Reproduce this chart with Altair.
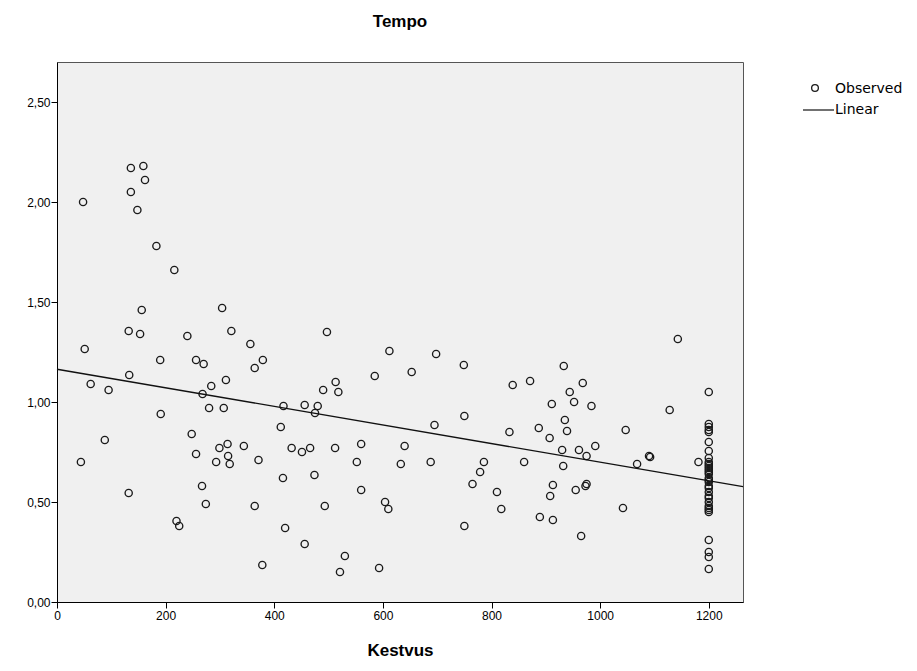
import altair as alt
import pandas as pd

# Observed points (Kestvus, Tempo)
kestvus = [
    48, 136, 159, 162, 136, 148, 183, 216, 156, 304,
    132, 153, 240, 321, 356, 51, 190, 256, 270, 379,
    364, 133, 62, 95, 311, 284, 268, 280, 307, 417,
    191, 412, 248, 88, 299, 314, 344, 432, 256, 315,
    293, 318, 371, 44, 416, 267, 274, 364, 132, 420,
    220, 225, 378, 497, 612, 698, 749, 585, 653, 513,
    490, 518, 839, 456, 480, 475, 750, 695, 833, 451,
    466, 512, 560, 640, 552, 633, 688, 786, 779, 765,
    810, 818, 474, 560, 493, 604, 610, 750, 456, 530,
    521, 593, 1143, 933, 871, 968, 944, 952, 911, 984,
    1128, 935, 939, 887, 1047, 907, 930, 961, 991, 975,
    860, 932, 1068, 1090, 1092, 1181, 913, 908, 955, 973,
    975, 889, 913, 965, 1042,
    1200, 1200, 1200, 1200, 1200, 1200, 1200, 1200, 1200, 1200,
    1200, 1200, 1200, 1200, 1200, 1200, 1200, 1200, 1200, 1200,
    1200, 1200, 1200, 1200, 1200, 1200, 1200, 1200, 1200, 1200,
    1200, 1200,
]
tempo = [
    2.00, 2.17, 2.18, 2.11, 2.05, 1.96, 1.78, 1.66, 1.46, 1.47,
    1.355, 1.34, 1.33, 1.355, 1.29, 1.265, 1.21, 1.21, 1.19, 1.21,
    1.17, 1.135, 1.09, 1.06, 1.11, 1.08, 1.04, 0.97, 0.97, 0.98,
    0.94, 0.875, 0.84, 0.81, 0.77, 0.79, 0.78, 0.77, 0.74, 0.73,
    0.70, 0.69, 0.71, 0.70, 0.62, 0.58, 0.49, 0.48, 0.545, 0.37,
    0.405, 0.38, 0.185, 1.35, 1.255, 1.24, 1.185, 1.13, 1.15, 1.10,
    1.06, 1.05, 1.085, 0.985, 0.98, 0.945, 0.93, 0.885, 0.85, 0.75,
    0.77, 0.77, 0.79, 0.78, 0.70, 0.69, 0.70, 0.70, 0.65, 0.59,
    0.55, 0.465, 0.635, 0.56, 0.48, 0.50, 0.465, 0.38, 0.29, 0.23,
    0.15, 0.17, 1.315, 1.18, 1.105, 1.095, 1.05, 1.00, 0.99, 0.98,
    0.96, 0.91, 0.855, 0.87, 0.86, 0.82, 0.76, 0.76, 0.78, 0.73,
    0.70, 0.68, 0.69, 0.73, 0.725, 0.70, 0.585, 0.53, 0.56, 0.58,
    0.59, 0.425, 0.41, 0.33, 0.47,
    1.05, 0.89, 0.875, 0.86, 0.85, 0.80, 0.755, 0.72, 0.70, 0.69,
    0.68, 0.67, 0.66, 0.65, 0.64, 0.62, 0.61, 0.60, 0.58, 0.57,
    0.55, 0.53, 0.52, 0.50, 0.48, 0.47, 0.46, 0.45, 0.31, 0.25,
    0.225, 0.165,
]

# Linear fit line endpoints
fit_x = [0, 1263]
fit_y = [1.164, 0.577]

x_ticks = [0, 200, 400, 600, 800, 1000, 1200]
y_ticks = [0, 0.5, 1.0, 1.5, 2.0, 2.5]

legend_labels = ["Observed", "Linear"]

df = pd.DataFrame({"Kestvus": kestvus, "Tempo": tempo})
fit = pd.DataFrame({"Kestvus": fit_x, "Tempo": fit_y})

FONT = "Liberation Sans Narrow, Arial Narrow, Liberation Sans, Arial"

x_enc = alt.X(
    "Kestvus:Q",
    scale=alt.Scale(domain=[0, 1263], nice=False, zero=False),
    axis=alt.Axis(
        values=x_ticks, title="Kestvus", grid=False, format="d",
        labelFont=FONT, labelFontSize=12, labelColor="#000",
        titleFont="Liberation Sans", titleFontSize=17, titleFontWeight="bold",
        titleColor="#000", titlePadding=21,
        tickSize=6, tickColor="#000", domainColor="#000", labelPadding=2,
        labelFlush=False,
    ),
)
y_enc = alt.Y(
    "Tempo:Q",
    scale=alt.Scale(domain=[0, 2.7], nice=False, zero=False),
    axis=alt.Axis(
        values=y_ticks, title=None, grid=False,
        labelExpr="replace(format(datum.value, '.2f'), '.', ',')",
        labelFont=FONT, labelFontSize=12, labelColor="#000",
        tickSize=6, tickColor="#000", domainColor="#000", labelPadding=1,
        minExtent=44, maxExtent=44, labelFlush=False,
    ),
)

points = alt.Chart(df).mark_point(
    shape="circle", filled=False, size=52, color="#1a1a1a", strokeWidth=1.35, opacity=1
).encode(x=x_enc, y=y_enc)

line = alt.Chart(fit).mark_line(color="#111", strokeWidth=1.4).encode(
    x="Kestvus:Q", y="Tempo:Q"
)

leg_obs = pd.DataFrame({"label": [legend_labels[0]]})
leg_lin = pd.DataFrame({"label": [legend_labels[1]]})

LEG_FONT = "DejaVu Sans"
leg_pt = alt.Chart(leg_obs).mark_point(
    shape="circle", filled=False, size=45, color="#1a1a1a", strokeWidth=1.3, opacity=1
).encode(x=alt.value(758), y=alt.value(26))
leg_pt_txt = alt.Chart(leg_obs).mark_text(
    align="left", baseline="middle", font=LEG_FONT, fontSize=14, color="#000"
).encode(x=alt.value(778), y=alt.value(27), text="label:N")
leg_ln = alt.Chart(leg_lin).mark_rule(color="#111", strokeWidth=1.2).encode(
    x=alt.value(746), x2=alt.value(777), y=alt.value(48)
)
leg_ln_txt = alt.Chart(leg_lin).mark_text(
    align="left", baseline="middle", font=LEG_FONT, fontSize=14, color="#000"
).encode(x=alt.value(778), y=alt.value(48), text="label:N")

chart = (
    alt.layer(points, line, leg_pt, leg_pt_txt, leg_ln, leg_ln_txt)
    .properties(
        width=686,
        height=540,
        title=alt.TitleParams(
            "Tempo", font="Liberation Sans", fontSize=17, fontWeight="bold",
            color="#000", anchor="middle", offset=31,
        ),
    )
    .configure(background="white")
    .configure_view(fill="#f0f0f0", stroke="#555", strokeWidth=1)
)

chart.save("out.html", embed_options={"renderer": "svg", "actions": False})
